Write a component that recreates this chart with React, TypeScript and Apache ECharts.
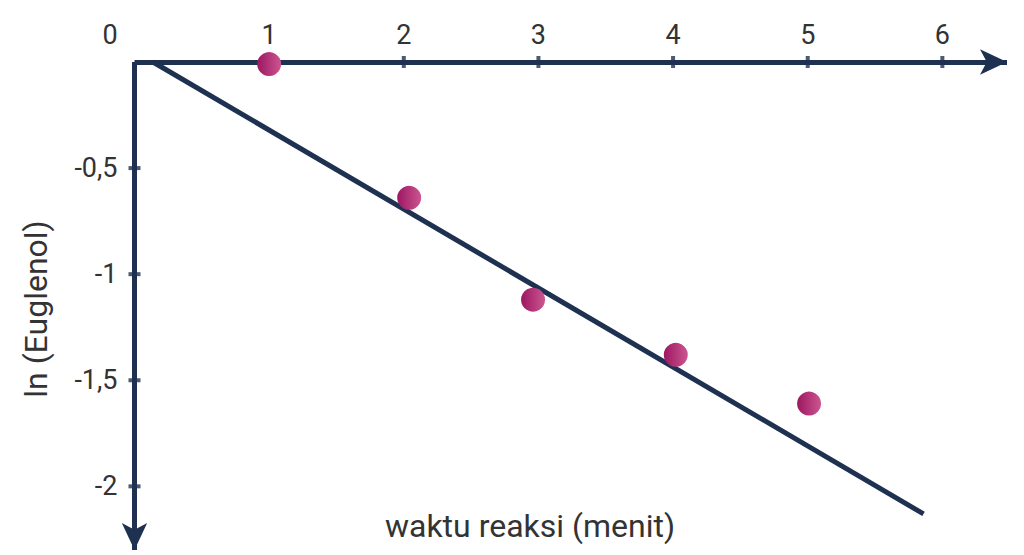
import React, { useEffect, useRef } from "react";
import * as echarts from "echarts";

// Data
const timeMin = [1, 2.04, 2.96, 4.02, 5.01];
const lnEuglenol = [-0.01, -0.64, -1.12, -1.38, -1.61];
const fitX = [0.137, 5.86];
const fitY = [0, -2.13];
const xTickValues = [1, 2, 3, 4, 5, 6];
const yTickValues = [-0.5, -1, -1.5, -2];
const originLabel = "0";
const xTitle = "waktu reaksi (menit)";
const yTitle = "ln (Euglenol)";

const NAVY = "#1f3150";
const TEXT = "#333333";
const FONT = "Roboto";

export default function App() {
  const ref = useRef<HTMLDivElement>(null);
  useEffect(() => {
    if (!ref.current) return;
    const chart = echarts.init(ref.current, undefined, { renderer: "svg" });
    const pointGradient = new echarts.graphic.LinearGradient(0, 0, 1, 0, [
      { offset: 0, color: "#9c1761" },
      { offset: 1, color: "#cc5690" },
    ]);
    chart.setOption({
      animation: false,
      backgroundColor: "#ffffff",
      grid: { left: 134.5, top: 62, right: 17, bottom: 5, containLabel: false },
      xAxis: {
        type: "value",
        position: "top",
        min: 0,
        max: 6.48,
        axisLine: {
          show: true,
          onZero: false,
          symbol: ["none", "arrow"],
          symbolSize: [19, 27],
          lineStyle: { color: NAVY, width: 5, cap: "butt" },
        },
        axisTick: { show: false },
        splitLine: { show: false },
        axisLabel: {
          customValues: xTickValues,
          color: TEXT,
          fontFamily: FONT,
          fontSize: 27,
          margin: 14,
        },
      },
      yAxis: {
        type: "value",
        min: -2.3,
        max: 0,
        axisLine: {
          show: true,
          onZero: false,
          symbol: ["arrow", "none"],
          symbolSize: [19, 27],
          lineStyle: { color: NAVY, width: 5, cap: "butt" },
        },
        axisTick: { show: false },
        splitLine: { show: false },
        axisLabel: {
          customValues: yTickValues,
          color: TEXT,
          fontFamily: FONT,
          fontSize: 27,
          margin: 17,
          formatter: (v: number) => String(v).replace(".", ","),
        },
      },
      graphic: [
        {
          type: "text",
          x: 110,
          y: 35,
          style: {
            text: originLabel,
            fill: TEXT,
            font: `27px ${FONT}`,
            align: "center",
            verticalAlign: "middle",
          },
        },
        {
          type: "text",
          x: 530,
          y: 526,
          style: {
            text: xTitle,
            fill: TEXT,
            font: `32px ${FONT}`,
            align: "center",
            verticalAlign: "middle",
          },
        },
        {
          type: "text",
          x: 36,
          y: 309,
          rotation: Math.PI / 2,
          style: {
            text: yTitle,
            fill: TEXT,
            font: `32px ${FONT}`,
            align: "center",
            verticalAlign: "middle",
          },
        },
      ],
      series: [
        {
          type: "scatter",
          name: "xticks",
          silent: true,
          clip: false,
          z: 1,
          symbol: "rect",
          symbolSize: [4, 12],
          itemStyle: { color: NAVY },
          data: xTickValues.map((v) => [v, 0]),
        },
        {
          type: "scatter",
          name: "yticks",
          silent: true,
          clip: false,
          z: 1,
          symbol: "rect",
          symbolSize: [12, 4],
          itemStyle: { color: NAVY },
          data: yTickValues.map((v) => [0, v]),
        },
        {
          type: "line",
          name: "fit",
          silent: true,
          clip: false,
          z: 2,
          symbol: "none",
          lineStyle: { color: NAVY, width: 5, cap: "butt" },
          data: fitX.map((x, i) => [x, fitY[i]]),
        },
        {
          type: "scatter",
          name: "ln (Euglenol)",
          z: 3,
          symbol: "circle",
          symbolSize: 24,
          itemStyle: { color: pointGradient, opacity: 1 },
          data: timeMin.map((t, i) => [t, lnEuglenol[i]]),
        },
      ],
    });
    return () => chart.dispose();
  }, []);
  return <div ref={ref} style={{ width: 1024, height: 555, position: "fixed", left: 0, top: 0 }} />;
}
